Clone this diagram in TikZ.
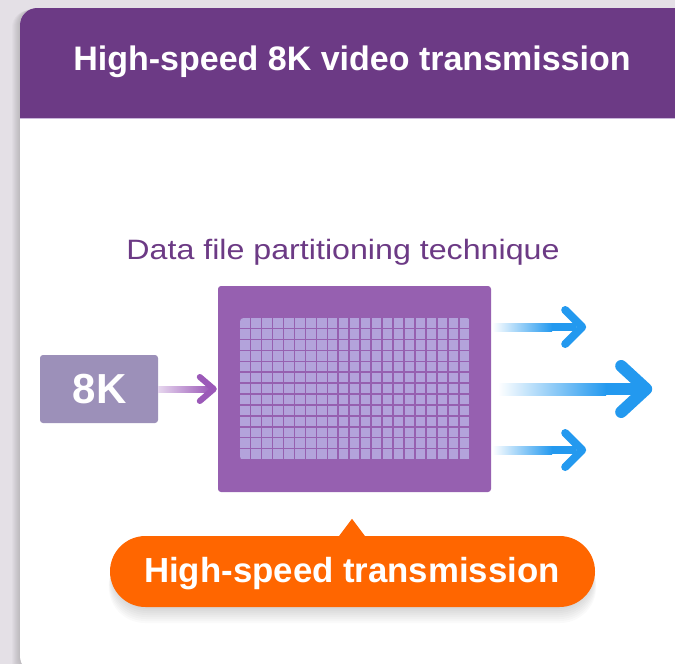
\documentclass[tikz,border=0pt]{standalone}
\usepackage{fontspec}
\setmainfont{Liberation Sans}
\newfontfamily\subfont[FakeStretch=1.15]{Liberation Sans}
\usetikzlibrary{calc}
\definecolor{bg}{HTML}{E4E0E6}
\definecolor{header}{HTML}{6C3A85}
\definecolor{hline}{HTML}{C9B6DA}
\definecolor{boxpurple}{HTML}{9660B0}
\definecolor{cell}{HTML}{B3A3DB}
\definecolor{gray8k}{HTML}{9C90B9}
\definecolor{arrpurple}{HTML}{9B59B8}
\definecolor{arrlight}{HTML}{E6D6EE}
\definecolor{subtxt}{HTML}{6C3A85}
\definecolor{flowblue}{HTML}{2399EF}
\definecolor{bubble}{HTML}{FF6600}
\tikzset{
  chevron/.style={line cap=round, line join=round},
  titletext/.style={anchor=base, text=white, font=\bfseries\fontsize{34}{40}\selectfont, inner sep=0},
  subtext/.style={anchor=base, text=subtxt, font=\subfont\fontsize{28}{34}\selectfont, inner sep=0},
}
\begin{document}
\begin{tikzpicture}[x=1pt,y=-1pt]
\useasboundingbox (0,0) rectangle (675,664);
\clip (0,0) rectangle (675,664);
\fill[bg] (0,0) rectangle (675,664);
% card shadow
\foreach \s in {1,...,8} {
  \fill[black, opacity=0.018, rounded corners=17] (20-\s, 8+\s*0.3) rectangle (700,673+\s);
}
% card
\fill[white, rounded corners=17] (20,8) rectangle (700,673);
\begin{scope}
  \clip[rounded corners=17] (20,8) rectangle (700,673);
  \fill[header] (20,8) rectangle (700,118);
\end{scope}
\draw[hline, line width=1.2] (20,118.6) -- (700,118.6);
\node[titletext] (title) at (352,70) {High-speed 8K video transmission};
% subtitle
\node[subtext] (sub) at (343,259) {Data file partitioning technique};
% partition box
\node[fill=boxpurple, rounded corners=3, minimum width=273, minimum height=206, inner sep=0] (part) at (354.5,389) {};
\begin{scope}
  \clip[rounded corners=3.5] (240,318) rectangle (470.5,460);
  \foreach \i in {0,...,20} {
    \foreach \j in {0,...,12} {
      \fill[cell] (240.3+\i*10.96, 318.3+\j*10.92) rectangle ++(9.5,9.5);
    }
  }
\end{scope}
% 8K box
\node[fill=gray8k, rounded corners=3, minimum width=118, minimum height=68, inner sep=0] (k8) at (99,389) {};
\node[anchor=base, text=white, font=\bfseries\fontsize{42}{48}\selectfont, inner sep=0] (k8t) at (99.5,403) {8K};
% purple arrow 8K -> box
\shade[left color=arrlight, right color=arrpurple] ($(k8.east)+(0,-3)$) rectangle ($(part.west)+(-7,3)$);
\draw[arrpurple, line width=6, chevron] ($(part.west)+(-18,-12)$) -- ($(part.west)+(-4,0)$) -- ($(part.west)+(-18,12)$);
% blue arrows
\coordinate (t1) at ($(part.east)+(1,-62)$);
\coordinate (t2) at ($(part.east)+(7,0)$);
\coordinate (t3) at ($(part.east)+(1,61)$);
\shade[left color=white, right color=flowblue] ($(t1)+(0,-4)$) rectangle ($(t1)+(60,4)$);
\fill[flowblue] ($(t1)+(59.5,-4)$) rectangle ($(t1)+(84,4)$);
\draw[flowblue, line width=8, chevron] ($(t1)+(73,-17)$) -- ($(t1)+(90,0)$) -- ($(t1)+(73,17)$);
\shade[left color=white, right color=flowblue] ($(t3)+(0,-4)$) rectangle ($(t3)+(60,4)$);
\fill[flowblue] ($(t3)+(59.5,-4)$) rectangle ($(t3)+(84,4)$);
\draw[flowblue, line width=8, chevron] ($(t3)+(73,-17)$) -- ($(t3)+(90,0)$) -- ($(t3)+(73,17)$);
\shade[left color=white, right color=flowblue] ($(t2)+(0,-6)$) rectangle ($(t2)+(108,6)$);
\fill[flowblue] ($(t2)+(107.5,-6)$) rectangle ($(t2)+(142,6)$);
\draw[flowblue, line width=12, chevron] ($(t2)+(123,-23)$) -- ($(t2)+(148,0)$) -- ($(t2)+(123,23)$);
% bubble shadow
\foreach \s in {2,4,...,16} {
  \fill[black, opacity=0.02, rounded corners=36] (112-\s*0.2, 542+\s*0.5) rectangle (593+\s*0.2, 607+\s);
}
\node[fill=bubble, rounded corners=35.5, minimum width=485, minimum height=71, inner sep=0] (bub) at (352.5,571.5) {};
\fill[bubble] ($(bub.north)+(-14,1)$) -- ($(bub.north)+(-0.5,-17)$) -- ($(bub.north)+(13,1)$) -- cycle;
\node[anchor=base, text=white, font=\bfseries\fontsize{34.8}{40}\selectfont, inner sep=0] (bubt) at (352,582) {High-speed transmission};
\end{tikzpicture}
\end{document}
